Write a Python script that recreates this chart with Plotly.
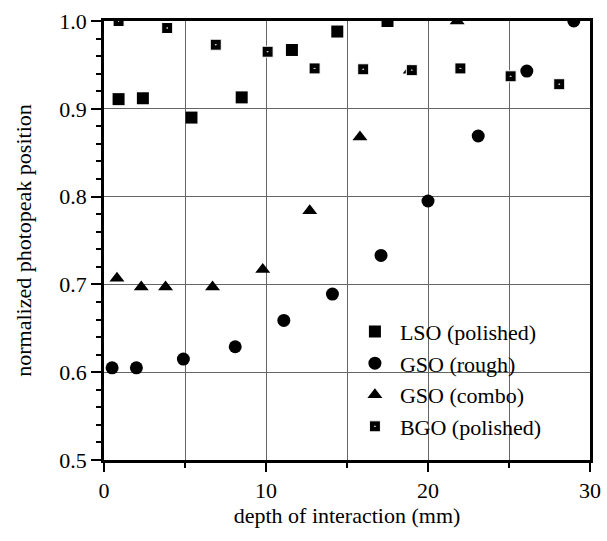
import plotly.graph_objects as go

# LSO (polished)
lso_x = [0.9, 2.4, 5.4, 8.5, 11.6, 14.4, 17.5]
lso_y = [0.911, 0.912, 0.890, 0.913, 0.967, 0.988, 1.0]

# GSO (rough)
gso_r_x = [0.5, 2.0, 4.9, 8.1, 11.1, 14.1, 17.1, 20.0, 23.1, 26.1, 29.0]
gso_r_y = [0.605, 0.605, 0.615, 0.629, 0.659, 0.689, 0.733, 0.795, 0.869, 0.943, 1.0]

# GSO (combo)
gso_c_x = [0.8, 2.3, 3.8, 6.7, 9.8, 12.7, 15.8, 18.9, 21.8]
gso_c_y = [0.707, 0.697, 0.697, 0.697, 0.717, 0.784, 0.868, 0.944, 1.0]

# BGO (polished)
bgo_x = [0.9, 3.9, 6.9, 10.1, 13.0, 16.0, 19.0, 22.0, 25.1, 28.1]
bgo_y = [1.0, 0.992, 0.973, 0.965, 0.946, 0.945, 0.944, 0.946, 0.937, 0.928]

FONT = "Liberation Serif, Times New Roman, serif"
FS = 22

fig = go.Figure()
fig.add_trace(go.Scatter(x=lso_x, y=lso_y, mode="markers", name="LSO (polished)",
                         marker=dict(symbol="square", size=12, color="black")))
fig.add_trace(go.Scatter(x=gso_r_x, y=gso_r_y, mode="markers", name="GSO (rough)",
                         marker=dict(symbol="circle", size=13, color="black")))
fig.add_trace(go.Scatter(x=gso_c_x, y=gso_c_y, mode="markers", name="GSO (combo)",
                         marker=dict(symbol="triangle-up", size=13, color="black")))
fig.add_trace(go.Scatter(x=bgo_x, y=bgo_y, mode="markers", name="BGO (polished)",
                         marker=dict(symbol="square-dot", size=11, color="black",
                                     line=dict(color="white", width=1))))

fig.update_layout(
    width=607, height=541,
    margin=dict(l=104, r=17, t=21, b=81, autoexpand=False),
    paper_bgcolor="white", plot_bgcolor="white",
    font=dict(family=FONT, size=FS, color="black"),
    legend=dict(x=0.506, y=0.34, xanchor="left", yanchor="top",
                bgcolor="rgba(0,0,0,0)", font=dict(family=FONT, size=FS),
                tracegroupgap=0, itemwidth=40),
    showlegend=True,
)

fig.update_xaxes(
    range=[0, 30], dtick=10, tick0=0,
    showline=True, linecolor="black", linewidth=2.5, mirror=True,
    ticks="outside", ticklen=9, tickwidth=2, tickcolor="black",
    showgrid=True, gridcolor="#666666", gridwidth=1.3,
    minor=dict(dtick=5, ticks="outside", ticklen=5, tickwidth=2, tickcolor="black",
               showgrid=True, gridcolor="#666666", gridwidth=1.3),
    zeroline=False,
    title=dict(text="depth of interaction (mm)", font=dict(family=FONT, size=FS), standoff=5),
    tickfont=dict(family=FONT, size=FS),
)
fig.update_yaxes(
    range=[0.5, 1.0], dtick=0.1, tick0=0.5, tickformat=".1f",
    showline=True, linecolor="black", linewidth=2.5, mirror=True,
    ticks="outside", ticklen=10, tickwidth=2, tickcolor="black",
    showgrid=True, gridcolor="#666666", gridwidth=1.3,
    minor=dict(dtick=0.02, ticks="outside", ticklen=5, tickwidth=2, tickcolor="black",
               showgrid=False),
    zeroline=False,
    title=dict(text="normalized photopeak position", font=dict(family=FONT, size=FS), standoff=22),
    tickfont=dict(family=FONT, size=FS),
)

fig.write_html("out.html")
